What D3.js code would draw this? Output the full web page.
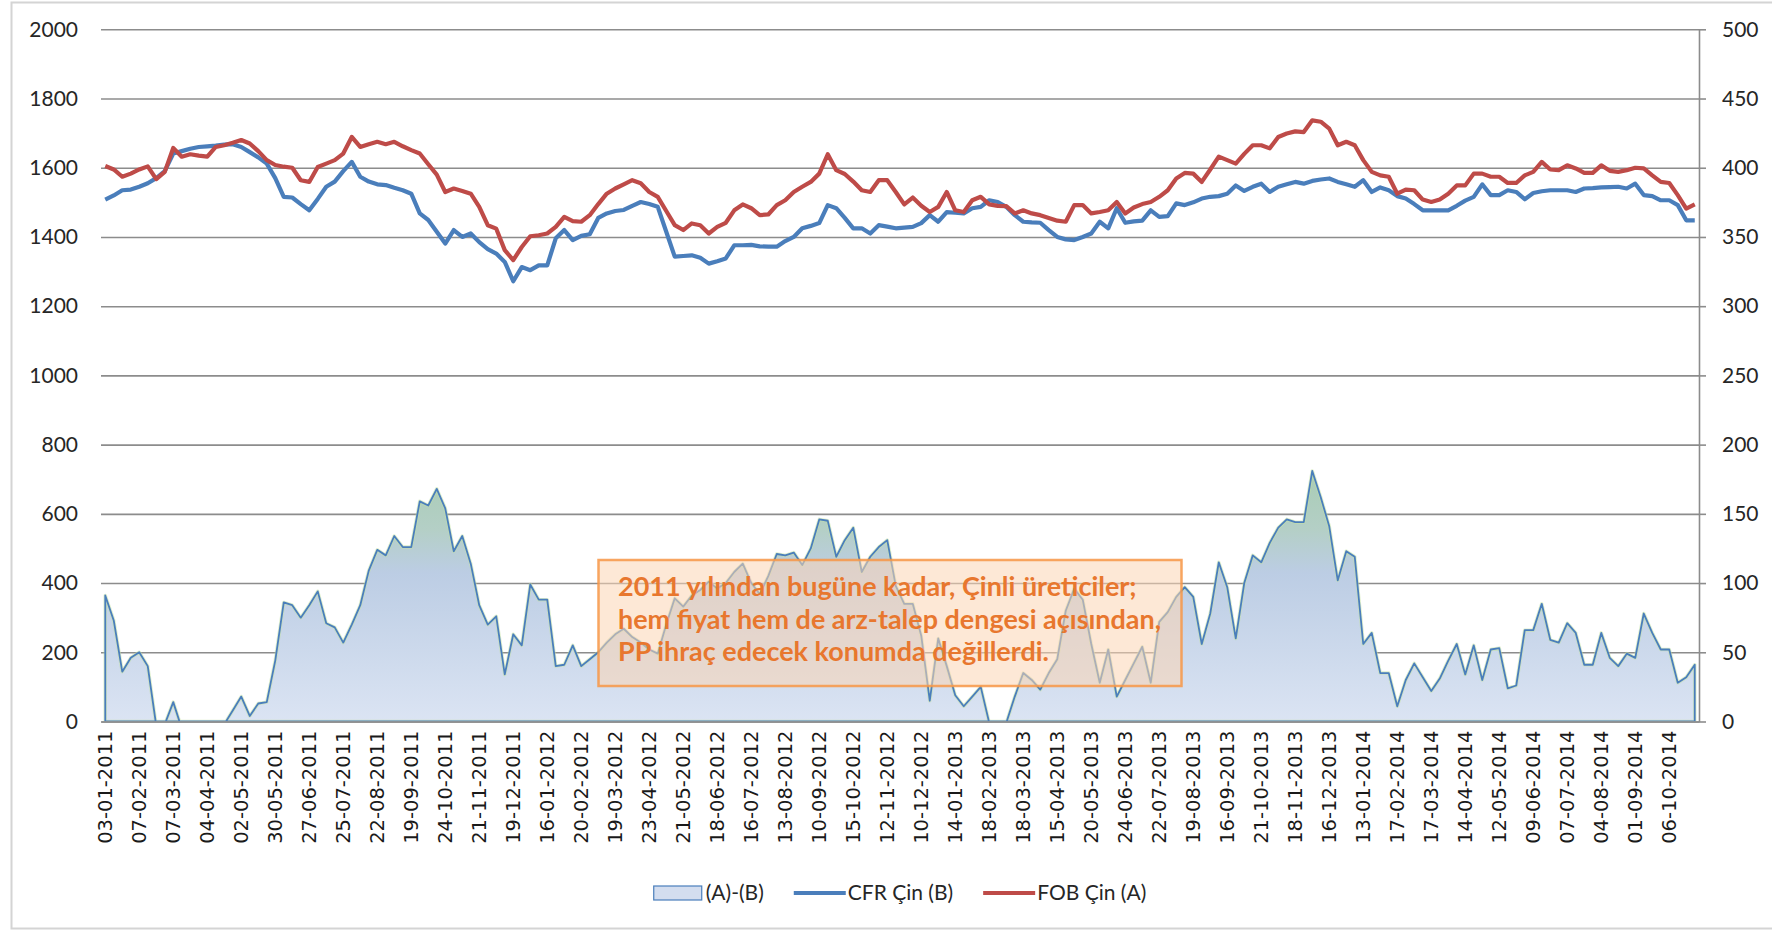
<!DOCTYPE html>
<html>
<head>
<meta charset="utf-8">
<script src="https://cdn.jsdelivr.net/npm/d3@7"></script>
<style>
  body { margin: 0; background: #fff; }
  svg { display: block; }
</style>
</head>
<body>
<script>
// every 4th week gets a label
var tickLabels = ["03-01-2011","07-02-2011","07-03-2011","04-04-2011","02-05-2011","30-05-2011","27-06-2011","25-07-2011",
  "22-08-2011","19-09-2011","24-10-2011","21-11-2011","19-12-2011","16-01-2012","20-02-2012","19-03-2012","23-04-2012",
  "21-05-2012","18-06-2012","16-07-2012","13-08-2012","10-09-2012","15-10-2012","12-11-2012","10-12-2012","14-01-2013",
  "18-02-2013","18-03-2013","15-04-2013","20-05-2013","24-06-2013","22-07-2013","19-08-2013","16-09-2013","21-10-2013",
  "18-11-2013","16-12-2013","13-01-2014","17-02-2014","17-03-2014","14-04-2014","12-05-2014","09-06-2014","07-07-2014",
  "04-08-2014","01-09-2014","06-10-2014"];

// CFR Çin (B), left axis
var cfrChina = [
  1508,1520,1535,1537,1545,1555,1570,1590,1641,1648,
  1655,1660,1662,1664,1667,1668,1660,1645,1630,1612,
  1570,1516,1514,1495,1477,1510,1545,1560,1590,1617,
  1574,1560,1552,1550,1542,1535,1525,1468,1449,1415,
  1381,1420,1400,1410,1385,1365,1352,1328,1272,1313,
  1304,1318,1318,1396,1420,1391,1403,1408,1455,1468,
  1475,1478,1490,1501,1495,1487,1415,1343,1345,1347,
  1340,1323,1330,1338,1376,1376,1377,1373,1372,1372,
  1388,1400,1425,1432,1440,1492,1483,1455,1425,1425,
  1410,1434,1430,1425,1427,1429,1440,1463,1444,1472,
  1470,1468,1483,1487,1506,1501,1487,1463,1444,1442,
  1441,1420,1400,1393,1391,1400,1410,1444,1425,1483,
  1441,1445,1447,1477,1458,1460,1497,1492,1500,1511,
  1516,1518,1525,1549,1533,1545,1554,1530,1545,1552,
  1559,1554,1562,1566,1569,1559,1552,1545,1564,1530,
  1543,1535,1518,1511,1495,1477,1477,1477,1477,1490,
  1505,1516,1552,1521,1521,1535,1530,1509,1527,1532,
  1535,1535,1535,1530,1540,1541,1543,1544,1545,1540,
  1554,1521,1518,1506,1506,1492,1448,1448];

// FOB Çin (A), left axis
var fobChina = [
  1605,1595,1574,1583,1595,1604,1567,1588,1657,1632,
  1639,1635,1632,1660,1665,1672,1680,1670,1648,1622,
  1608,1603,1600,1564,1559,1602,1612,1622,1641,1689,
  1660,1668,1675,1668,1675,1662,1651,1641,1610,1580,
  1530,1540,1533,1525,1487,1434,1424,1362,1333,1371,
  1402,1405,1410,1429,1458,1446,1444,1463,1495,1525,
  1540,1552,1564,1555,1530,1516,1475,1434,1420,1439,
  1434,1410,1429,1441,1477,1494,1483,1463,1465,1492,
  1506,1530,1545,1559,1583,1639,1593,1582,1560,1535,
  1530,1564,1564,1530,1494,1514,1490,1472,1487,1530,
  1477,1472,1506,1516,1494,1490,1489,1468,1477,1468,
  1463,1455,1447,1444,1492,1492,1468,1472,1477,1501,
  1468,1485,1495,1501,1516,1535,1569,1585,1583,1559,
  1595,1632,1622,1612,1640,1665,1665,1656,1689,1699,
  1705,1703,1737,1733,1713,1665,1675,1665,1622,1588,
  1578,1574,1525,1537,1535,1508,1501,1508,1525,1549,
  1549,1583,1583,1574,1574,1556,1556,1578,1588,1617,
  1595,1593,1607,1598,1585,1585,1607,1591,1588,1593,
  1600,1598,1578,1559,1556,1521,1482,1494];

// (A)-(B), right axis
var spread = [
  91,73,36,46,50,40,-3,-2,14,-5,
  -3,-3,-3,-3,-2,8,18,4,13,14,
  44,86,84,75,84,94,71,68,57,70,
  84,109,124,120,134,126,126,159,156,168,
  154,123,134,114,84,70,76,34,63,55,
  99,88,88,40,41,55,40,45,50,57,
  63,67,61,57,52,49,70,89,83,91,
  95,101,96,100,108,114,100,92,105,121,
  120,122,113,125,146,145,119,131,140,108,
  119,126,131,98,85,85,62,15,60,40,
  19,11,18,25,-1,-4,-1,18,35,30,
  23,35,45,80,96,88,56,28,52,18,
  30,42,54,28,72,79,90,97,90,56,
  78,115,97,60,100,120,115,129,140,146,
  144,144,181,162,141,102,123,119,56,64,
  35,35,11,30,42,32,22,31,44,56,
  34,55,30,52,53,24,26,66,66,85,
  59,57,71,64,41,41,64,46,40,49,
  46,78,64,52,52,28,32,41];

var leftTicks = d3.range(0, 2001, 200);
var rightTicks = d3.range(0, 501, 50);
var legendNames = ["(A)-(B)", "CFR Çin (B)", "FOB Çin (A)"];
var noteLines = ["2011 yılından bugüne kadar, Çinli üreticiler;",
                 "hem fiyat hem de arz-talep dengesi açısından,",
                 "PP ihraç edecek konumda değillerdi."];

var W = 1772, H = 930;
var margin = {top: 29.3, right: 73, bottom: 208.5, left: 101},
    width = W - margin.left - margin.right,
    height = H - margin.top - margin.bottom;

var blue = "#4a7ebb", red = "#be4b48", gridColor = "#8c8c8c";
var labelFont = "Lato, 'Open Sans', sans-serif";

var svg = d3.select("body").append("svg")
    .attr("width", W)
    .attr("height", H);

// outer chart border
svg.append("rect")
    .attr("x", 11.5).attr("y", 2.5)
    .attr("width", W).attr("height", 926)
    .attr("fill", "none")
    .attr("stroke", "#d4d4d4")
    .attr("stroke-width", 2);

var defs = svg.append("defs");
defs.append("clipPath").attr("id", "plotClip")
  .append("rect")
    .attr("x", 0).attr("y", -2)
    .attr("width", width).attr("height", height + 2);

var g = svg.append("g")
    .attr("transform", "translate(" + margin.left + "," + margin.top + ")");

var x = d3.scaleBand()
    .domain(d3.range(cfrChina.length))
    .range([0, width]);
var xc = function(i) { return x(i) + x.bandwidth() / 2; };

var y = d3.scaleLinear().domain([0, 2000]).range([height, 0]);
var y2 = d3.scaleLinear().domain([0, 500]).range([height, 0]);

// gradient for the spread area (green on top, blue below)
var grad = defs.append("linearGradient")
    .attr("id", "spreadFill")
    .attr("gradientUnits", "userSpaceOnUse")
    .attr("x1", 0).attr("x2", 0)
    .attr("y1", y2(185)).attr("y2", y2(0));
[[0, "#a7ccb3"], [0.25, "#b4cfc6"], [0.42, "#bccde4"], [1, "#dbe4f3"]].forEach(function(s) {
  grad.append("stop").attr("offset", s[0]).attr("stop-color", s[1]);
});

// gridlines
g.append("g")
    .attr("class", "grid")
    .call(d3.axisLeft(y).tickValues(leftTicks).tickSize(-width).tickFormat(""))
    .call(function(sel) {
      sel.select(".domain").remove();
      sel.selectAll("line").attr("stroke", gridColor).attr("stroke-width", 1.6);
    });

// left axis labels
g.append("g")
    .call(d3.axisLeft(y).tickValues(leftTicks).tickSize(0).tickPadding(23).tickFormat(d3.format("d")))
    .call(function(sel) {
      sel.select(".domain").remove();
      sel.selectAll("text")
        .style("font-family", labelFont)
        .style("font-size", "21px")
        .attr("fill", "#262626");
    });

// right axis
g.append("g")
    .attr("transform", "translate(" + width + ",0)")
    .call(d3.axisRight(y2).tickValues(rightTicks).tickSizeInner(7).tickSizeOuter(0).tickPadding(16).tickFormat(d3.format("d")))
    .call(function(sel) {
      sel.select(".domain").attr("stroke", gridColor).attr("stroke-width", 1.6);
      sel.selectAll("line").attr("stroke", gridColor).attr("stroke-width", 1.6);
      sel.selectAll("text")
        .style("font-family", labelFont)
        .style("font-size", "21px")
        .attr("fill", "#262626");
    });

var plot = g.append("g").attr("clip-path", "url(#plotClip)");

// spread area
var area = d3.area()
    .x(function(d, i) { return xc(i); })
    .y0(y2(0))
    .y1(function(d) { return y2(d); });

plot.append("path")
    .datum(spread)
    .attr("d", area)
    .attr("fill", "url(#spreadFill)")
    .attr("stroke", "#c4e2a4")
    .attr("stroke-opacity", 0.55)
    .attr("stroke-width", 3.5)
    .attr("stroke-linejoin", "round");

plot.append("path")
    .datum(spread)
    .attr("d", area)
    .attr("fill", "none")
    .attr("stroke", blue)
    .attr("stroke-width", 1.8)
    .attr("stroke-linejoin", "round");

// x axis
var tickIdx = d3.range(tickLabels.length).map(function(k) { return k * 4; });
g.append("g")
    .attr("transform", "translate(0," + height + ")")
    .call(d3.axisBottom(x).tickValues(tickIdx).tickSize(0).tickFormat(function(i) { return tickLabels[i / 4]; }))
    .call(function(sel) {
      sel.select(".domain").attr("stroke", gridColor).attr("stroke-width", 1.6);
      sel.selectAll("text")
        .attr("transform", "rotate(-90)")
        .attr("x", -9)
        .attr("y", 0)
        .attr("dy", "0.36em")
        .style("text-anchor", "end")
        .style("font-family", "'DejaVu Sans', Verdana, sans-serif")
        .style("font-size", "19.5px")
        .attr("fill", "#1a1a1a");
    });

// price lines
var line = function(vals) {
  return d3.line()
    .x(function(d, i) { return xc(i); })
    .y(function(d) { return y(d); })(vals);
};

plot.append("path")
    .attr("d", line(cfrChina))
    .attr("fill", "none")
    .attr("stroke", blue)
    .attr("stroke-width", 4.2)
    .attr("stroke-linejoin", "round");

plot.append("path")
    .attr("d", line(fobChina))
    .attr("fill", "none")
    .attr("stroke", red)
    .attr("stroke-width", 4.2)
    .attr("stroke-linejoin", "round");

// annotation box
var note = svg.append("g");
note.append("rect")
    .attr("x", 598.5).attr("y", 560)
    .attr("width", 583).attr("height", 126)
    .attr("fill", "#fbd5b5")
    .attr("fill-opacity", 0.55)
    .attr("stroke", "#f79646")
    .attr("stroke-opacity", 0.85)
    .attr("stroke-width", 2.5);

var noteText = note.selectAll("text")
    .data(noteLines)
  .enter().append("text")
    .attr("x", 618)
    .attr("y", function(d, i) { return 596 + i * 32.5; })
    .style("font-family", labelFont)
    .style("font-weight", "bold")
    .style("font-size", "24px")
    .attr("fill", "#e8772e")
    .text(function(d) { return d; });

// fit the note to the width it has in the picture
var targetW = [529, 554, 414];
var ratio = d3.mean(noteText.nodes(), function(n, i) { return targetW[i] / n.getComputedTextLength(); });
noteText.style("font-size", (24 * ratio).toFixed(2) + "px");

// legend
var legend = svg.append("g").attr("transform", "translate(0,893)");
var items = legend.selectAll("g")
    .data(legendNames)
  .enter().append("g");

items.each(function(d, i) {
  var it = d3.select(this);
  if (i === 0) {
    it.append("rect")
      .attr("x", 0).attr("y", -7)
      .attr("width", 48).attr("height", 14)
      .attr("fill", "#d3ddef")
      .attr("stroke", blue)
      .attr("stroke-width", 1.2);
  } else {
    it.append("line")
      .attr("x1", 0).attr("x2", 52)
      .attr("stroke", i === 1 ? blue : red)
      .attr("stroke-width", 4.2);
  }
  it.append("text")
    .attr("x", i === 0 ? 52 : 54)
    .attr("dy", "0.35em")
    .style("font-family", labelFont)
    .style("font-size", "21px")
    .attr("fill", "#262626")
    .text(d);
});

var offset = 0, gap = 30;
items.each(function() {
  var w = this.getBBox().width;
  d3.select(this).attr("transform", "translate(" + offset + ",0)");
  offset += w + gap;
});
var total = offset - gap;
legend.attr("transform", "translate(" + (margin.left + width / 2 - total / 2) + ",893)");
</script>
</body>
</html>
